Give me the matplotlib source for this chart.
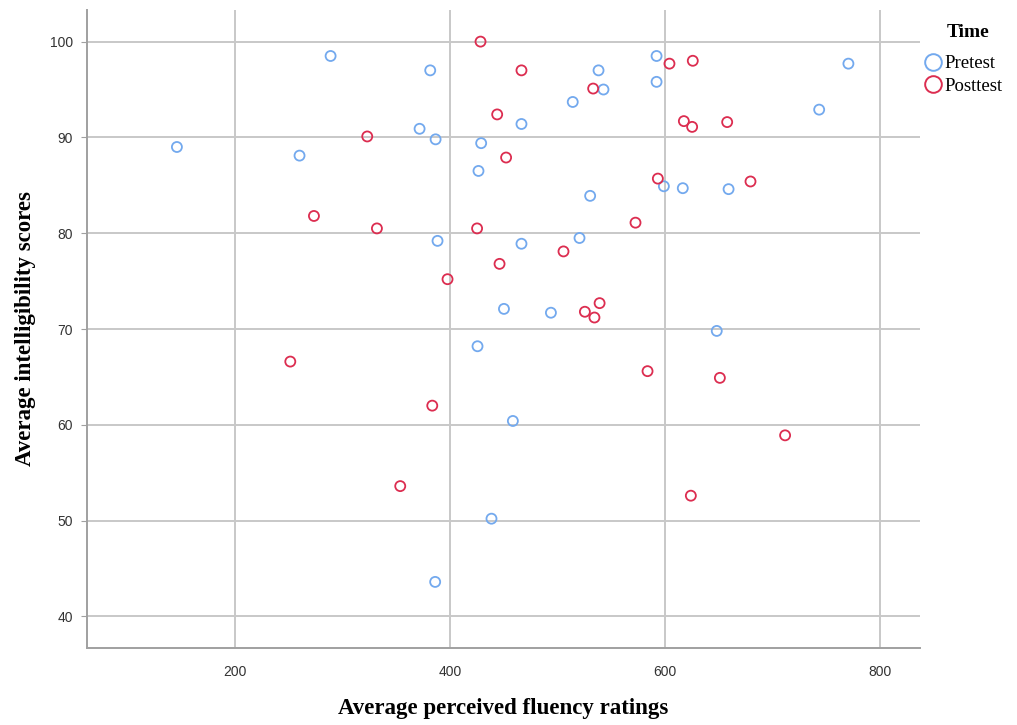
import matplotlib.pyplot as plt
from matplotlib.lines import Line2D

# Pretest points (fluency, intelligibility)
pre_x = [145.7, 259.8, 288.7, 381.4, 466.3, 371.5, 386.4, 428.8, 426.3, 388.2,
         466.3, 450.0, 538.0, 592.0, 770.5, 542.6, 592.0, 514.0, 743.3, 598.8,
         616.4, 659.0, 530.2, 520.3, 493.7, 425.4, 458.3, 438.4, 386.0, 648.0]
pre_y = [89.0, 88.1, 98.5, 97.0, 91.4, 90.9, 89.8, 89.4, 86.5, 79.2,
         78.9, 72.1, 97.0, 98.5, 97.7, 95.0, 95.8, 93.7, 92.9, 84.9,
         84.7, 84.6, 83.9, 79.5, 71.7, 68.2, 60.4, 50.2, 43.6, 69.8]

# Posttest points
post_x = [428.2, 466.3, 443.7, 322.8, 452.0, 273.2, 331.8, 425.0, 445.9, 397.5,
          604.0, 625.7, 533.0, 617.4, 625.1, 657.7, 593.2, 679.4, 572.4, 505.4,
          525.3, 539.0, 534.2, 251.2, 383.3, 353.5, 583.6, 650.9, 711.6, 623.9]
post_y = [100.0, 97.0, 92.4, 90.1, 87.9, 81.8, 80.5, 80.5, 76.8, 75.2,
          97.7, 98.0, 95.1, 91.7, 91.1, 91.6, 85.7, 85.4, 81.1, 78.1,
          71.8, 72.7, 71.2, 66.6, 62.0, 53.6, 65.6, 64.9, 58.9, 52.6]

x_ticks = [200, 400, 600, 800]
y_ticks = [40, 50, 60, 70, 80, 90, 100]

blue = '#73A9EE'
red = '#DC2D50'
grid_col = '#C8C8C8'

fig = plt.figure(figsize=(10.17, 7.25), dpi=100)
ax = fig.add_axes([0.0855, 0.1062, 0.819, 0.880])

ax.scatter(pre_x, pre_y, s=52, facecolors='none', edgecolors=blue, linewidths=1.3, zorder=3)
ax.scatter(post_x, post_y, s=52, facecolors='none', edgecolors=red, linewidths=1.3, zorder=3)

ax.set_xlim(62, 837)
ax.set_ylim(36.7, 103.3)
ax.set_xticks(x_ticks)
ax.set_yticks(y_ticks)
ax.grid(True, color=grid_col, linewidth=1.4)
ax.set_axisbelow(True)

for side in ['top', 'right']:
    ax.spines[side].set_visible(False)
for side in ['left', 'bottom']:
    ax.spines[side].set_color('#A0A0A0')
    ax.spines[side].set_linewidth(1.4)

ax.tick_params(axis='y', length=4, color='#A0A0A0', labelsize=10, labelcolor='#333333', pad=6)
ax.tick_params(axis='x', length=0, labelsize=10, labelcolor='#333333', pad=12)
for lab in ax.get_xticklabels() + ax.get_yticklabels():
    lab.set_family('Liberation Sans')

ax.set_xlabel('Average perceived fluency ratings', family='Liberation Serif',
              fontweight='bold', fontsize=16.5, labelpad=14)
ax.set_ylabel('Average intelligibility scores', family='Liberation Serif',
              fontweight='bold', fontsize=16.5, labelpad=10)

# legend: title placed separately, entries below it
fig.text(0.952, 0.9545, 'Time', family='Liberation Serif', fontweight='bold',
         fontsize=14, ha='center', va='center')
handles = [
    Line2D([], [], marker='o', linestyle='none', markersize=12, markerfacecolor='none',
           markeredgecolor=blue, markeredgewidth=1.4, label='Pretest'),
    Line2D([], [], marker='o', linestyle='none', markersize=12, markerfacecolor='none',
           markeredgecolor=red, markeredgewidth=1.4, label='Posttest'),
]
fig.legend(handles=handles, loc='center left', bbox_to_anchor=(0.908, 0.8966),
           frameon=False, prop={'family': 'Liberation Serif', 'size': 13.5},
           handlelength=1.0, handletextpad=0.1, labelspacing=0.3,
           borderaxespad=0, borderpad=0)

fig.savefig('out.png', dpi=100)
